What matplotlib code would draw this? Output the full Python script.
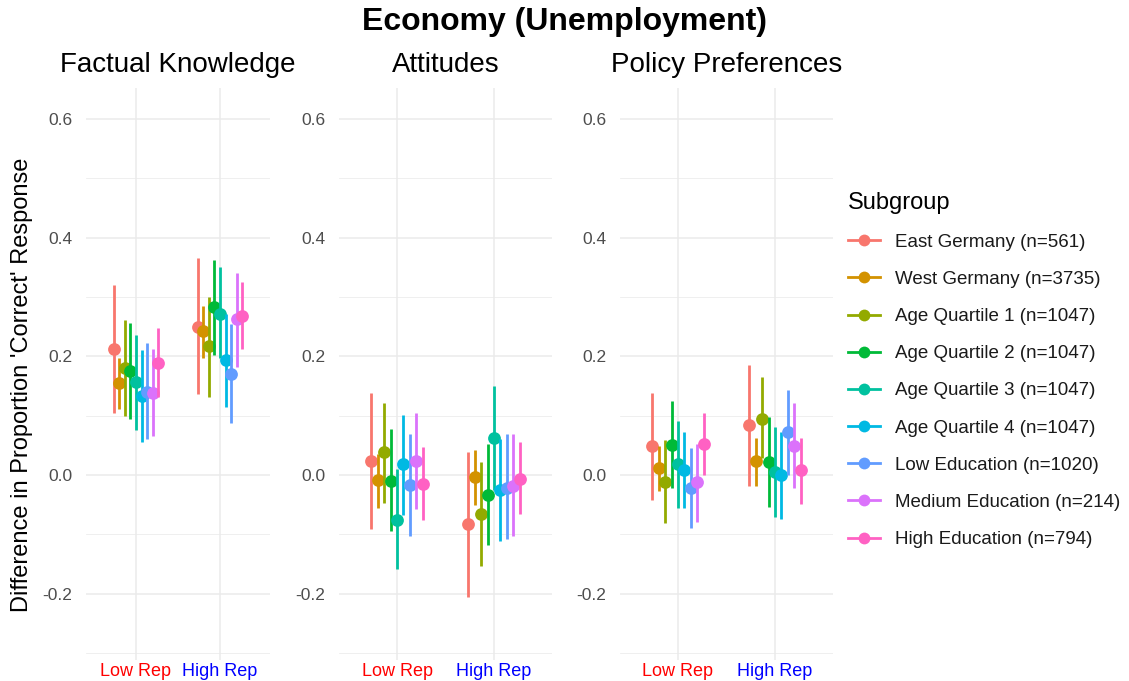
import numpy as np
import matplotlib
matplotlib.use("Agg")
import matplotlib.pyplot as plt
from matplotlib.lines import Line2D
from matplotlib.ticker import MultipleLocator

plt.rcParams["font.family"] = ["Liberation Sans", "DejaVu Sans"]

# ---- data -------------------------------------------------------------
subgroups = [
    "East Germany (n=561)", "West Germany (n=3735)",
    "Age Quartile 1 (n=1047)", "Age Quartile 2 (n=1047)",
    "Age Quartile 3 (n=1047)", "Age Quartile 4 (n=1047)",
    "Low Education (n=1020)", "Medium Education (n=214)",
    "High Education (n=794)",
]
colors = ["#F8766D", "#D39200", "#93AA00", "#00BA38", "#00C19F",
          "#00B9E3", "#619CFF", "#DB72FB", "#FF61C3"]
rep_levels = ["Low Rep", "High Rep"]
rep_colors = ["red", "blue"]
panels = ["Factual Knowledge", "Attitudes", "Policy Preferences"]

# estimate / lower / upper per subgroup, for Low Rep then High Rep
knowledge_est = [[0.212, 0.155, 0.181, 0.176, 0.156, 0.134, 0.140, 0.139, 0.189],
                 [0.250, 0.243, 0.217, 0.284, 0.272, 0.194, 0.171, 0.263, 0.268]]
knowledge_lo = [[0.104, 0.112, 0.100, 0.095, 0.076, 0.056, 0.060, 0.065, 0.131],
                [0.136, 0.198, 0.132, 0.203, 0.197, 0.115, 0.088, 0.182, 0.212]]
knowledge_hi = [[0.321, 0.198, 0.261, 0.256, 0.236, 0.210, 0.223, 0.212, 0.247],
                [0.365, 0.285, 0.300, 0.363, 0.350, 0.271, 0.254, 0.341, 0.325]]

attitudes_est = [[0.024, -0.008, 0.039, -0.010, -0.075, 0.019, -0.017, 0.024, -0.015],
                 [-0.083, -0.004, -0.066, -0.033, 0.063, -0.025, -0.021, -0.018, -0.006]]
attitudes_lo = [[-0.091, -0.055, -0.047, -0.095, -0.159, -0.067, -0.102, -0.058, -0.076],
                [-0.206, -0.051, -0.154, -0.118, -0.025, -0.111, -0.108, -0.103, -0.066]]
attitudes_hi = [[0.139, 0.036, 0.122, 0.077, 0.011, 0.102, 0.070, 0.105, 0.047],
                [0.039, 0.043, 0.022, 0.053, 0.150, 0.061, 0.070, 0.069, 0.056]]

policy_est = [[0.049, 0.012, -0.011, 0.051, 0.018, 0.008, -0.021, -0.012, 0.052],
              [0.084, 0.024, 0.094, 0.022, 0.006, 0.000, 0.072, 0.049, 0.008]]
policy_lo = [[-0.042, -0.027, -0.080, -0.021, -0.056, -0.056, -0.089, -0.079, 0.000],
             [-0.018, -0.018, 0.028, -0.054, -0.070, -0.074, 0.000, -0.022, -0.048]]
policy_hi = [[0.139, 0.049, 0.059, 0.124, 0.091, 0.073, 0.045, 0.053, 0.104],
             [0.185, 0.063, 0.166, 0.098, 0.081, 0.073, 0.143, 0.122, 0.063]]

panel_data = [
    (knowledge_est, knowledge_lo, knowledge_hi),
    (attitudes_est, attitudes_lo, attitudes_hi),
    (policy_est, policy_lo, policy_hi),
]

# ---- layout -----------------------------------------------------------
W, H = 1129, 681
fig = plt.figure(figsize=(W / 100, H / 100), dpi=100)
fig.patch.set_facecolor("white")

panel_px = [(85.6, 270.4), (338.8, 552.2), (619.8, 833.2)]
top_px, bottom_px = 88, 660
grid_col = "#EBEBEB"
dodge = 0.6
n = len(subgroups)
offsets = (np.arange(n) - (n - 1) / 2) * dodge / n

for p, (title, (est, lo, hi)) in enumerate(zip(panels, panel_data)):
    x0, x1 = panel_px[p]
    ax = fig.add_axes([x0 / W, (H - bottom_px) / H, (x1 - x0) / W,
                       (bottom_px - top_px) / H])
    ax.set_xlim(0.4, 2.6)
    ax.set_ylim(-0.3116, 0.6522)
    for s in ax.spines.values():
        s.set_visible(False)
    ax.yaxis.set_major_locator(MultipleLocator(0.2))
    ax.yaxis.set_minor_locator(MultipleLocator(0.1))
    ax.set_yticks([-0.2, 0.0, 0.2, 0.4, 0.6])
    ax.set_yticklabels(["-0.2", "0.0", "0.2", "0.4", "0.6"])
    ax.set_xticks([1, 2])
    ax.set_xticklabels(rep_levels)
    for lab, c in zip(ax.get_xticklabels(), rep_colors):
        lab.set_color(c)
    ax.tick_params(axis="y", which="both", length=0, pad=9.5,
                   labelsize=12.5, labelcolor="#4D4D4D")
    ax.tick_params(axis="x", which="both", length=0, pad=2,
                   labelsize=13)
    ax.grid(True, which="major", color=grid_col, lw=1.1)
    ax.grid(True, which="minor", axis="y", color=grid_col, lw=0.55)
    ax.set_axisbelow(True)

    for g in range(n):
        for k in range(2):
            xpos = k + 1 + offsets[g]
            ax.vlines(xpos, lo[k][g], hi[k][g], color=colors[g], lw=2.0,
                      zorder=3 + g)
            ax.plot([xpos], [est[k][g]], "o", color=colors[g], ms=9.2,
                    mec="none", zorder=3 + g)

    fig.text((x0 + x1) / 2 / W, 1 - 65 / H, title, ha="center",
             va="center", fontsize=20, color="black")

fig.text(565 / W, 1 - 22 / H, "Economy (Unemployment)", ha="center",
         va="center", fontsize=23, fontweight="bold")
fig.text(22 / W, 1 - 385 / H, "Difference in Proportion 'Correct' Response",
         rotation=90, ha="center", va="center", fontsize=17)

handles = [Line2D([], [], color=c, marker="o", ms=8.5, lw=2.0, mec="none")
           for c in colors]
leg = fig.legend(handles, subgroups, title="Subgroup", loc="upper left",
                 bbox_to_anchor=(840 / W, 1 - 184 / H), frameon=False,
                 fontsize=13.5, title_fontsize=17, labelspacing=1.07,
                 handlelength=1.75, handletextpad=0.8, borderaxespad=0)
leg._legend_box.align = "left"
for t in leg.get_texts():
    t.set_color("#1A1A1A")

fig.savefig("out.png", dpi=100)
